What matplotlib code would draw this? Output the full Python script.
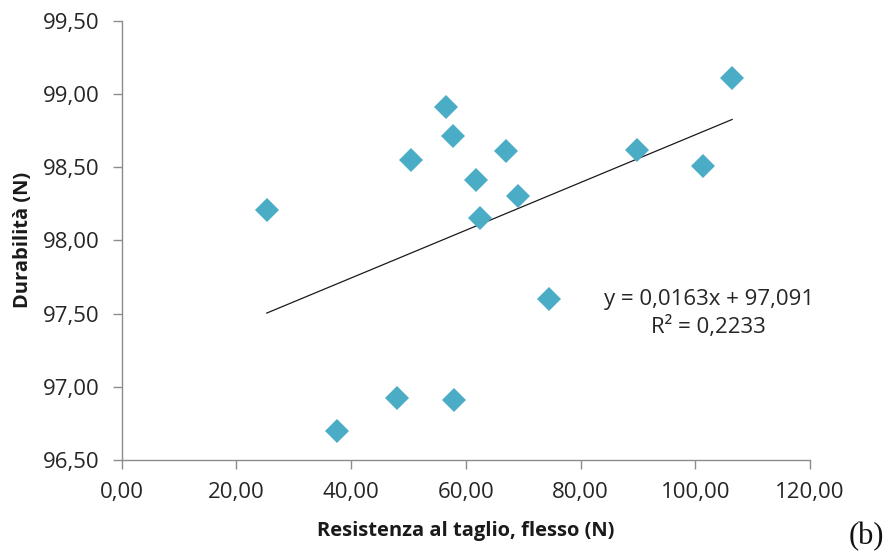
import matplotlib
matplotlib.use('Agg')
import matplotlib.pyplot as plt
from matplotlib.ticker import FuncFormatter, MultipleLocator

plt.rcParams.update({
    'font.family': ['Open Sans', 'DejaVu Sans'],
    'font.size': 16,
})

# resistenza al taglio (N) vs durabilità (N)
resistenza = [25.3, 50.4, 56.5, 57.7, 66.9, 61.8, 69.0, 62.4,
              89.8, 101.3, 106.4, 74.4, 37.5, 48.0, 57.9]
durabilita = [98.21, 98.55, 98.91, 98.71, 98.61, 98.41, 98.30, 98.15,
              98.62, 98.51, 99.11, 97.60, 96.70, 96.92, 96.91]

# linear trend as reported
slope = 0.0163
intercept = 97.091
r2 = 0.2233

fig = plt.figure(figsize=(8.9, 5.54), dpi=100)
ax = fig.add_axes([0.1367, 0.1697, 0.7736, 0.7930])

ax.plot(resistenza, durabilita, linestyle='none', marker='D', markersize=12,
        color='#4BACC6', markeredgewidth=0, zorder=3)

x_fit = [min(resistenza), max(resistenza)]
y_fit = [slope * v + intercept for v in x_fit]
ax.plot(x_fit, y_fit, color='#1a1a1a', linewidth=0.9, zorder=2)

ax.set_xlim(0, 120)
ax.set_ylim(96.5, 99.5)
ax.xaxis.set_major_locator(MultipleLocator(20))
ax.yaxis.set_major_locator(MultipleLocator(0.5))
comma = FuncFormatter(lambda v, _: f'{v:.2f}'.replace('.', ','))
ax.xaxis.set_major_formatter(comma)
ax.yaxis.set_major_formatter(comma)

for side in ('top', 'right'):
    ax.spines[side].set_visible(False)
for side in ('left', 'bottom'):
    ax.spines[side].set_color('#8c8c8c')
    ax.spines[side].set_linewidth(1.0)
ax.tick_params(axis='both', direction='out', length=6.5, width=1.0,
               color='#8c8c8c', labelcolor='#262626', labelsize=16)
ax.tick_params(axis='x', pad=9)
ax.tick_params(axis='y', pad=9.5)

ax.set_xlabel('Resistenza al taglio, flesso (N)', fontweight='bold',
              fontsize=14.5, color='#1a1a1a', labelpad=13)
ax.set_ylabel('Durabilità (N)', fontweight='bold', fontsize=14.5,
              color='#1a1a1a', labelpad=7)

eq = f'y = {slope:.4f}x + {intercept:.3f}'.replace('.', ',')
ax.text(102.3, 97.50, eq + '\n' + f'R² = {r2:.4f}'.replace('.', ','),
        ha='center', va='center', fontsize=16, color='#262626',
        linespacing=1.3)

fig.text(0.974, 0.031, '(b)', family='Liberation Serif', fontsize=22,
         ha='center', va='center', color='#111111')

fig.savefig('out.png', dpi=100)
